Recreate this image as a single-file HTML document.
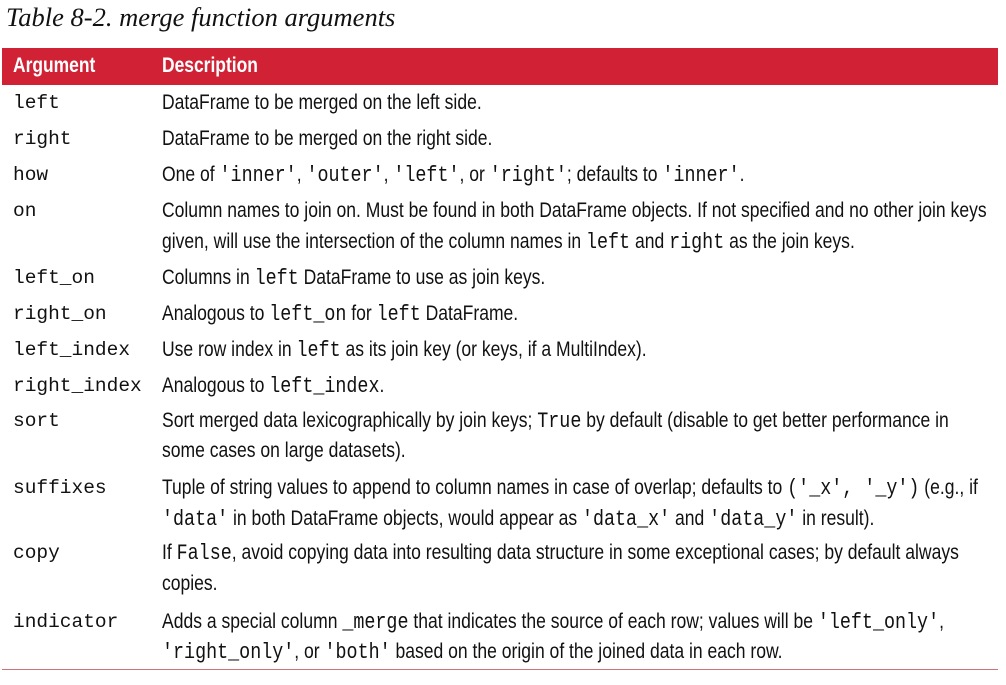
<!DOCTYPE html>
<html><head><meta charset="utf-8"><style>
body{margin:0;width:1006px;height:685px;background:#fff;position:relative;overflow:hidden;font-family:"Liberation Sans",sans-serif;color:#111}
.t{position:absolute;left:6px;top:2px;font-family:"Liberation Serif",serif;font-style:italic;font-size:26.5px;white-space:nowrap}
.hd{position:absolute;left:2px;top:48px;width:996px;height:37px;background:#d02234}
.h{position:absolute;top:54px;color:#fff;font-weight:bold;font-size:21px;transform:scaleX(0.83);transform-origin:0 0;white-space:nowrap}
.r{position:absolute;white-space:nowrap;font-size:21px;line-height:24px;transform:scaleX(0.835);transform-origin:0 0}
.a{position:absolute;left:13px;font-family:"Liberation Mono",monospace;font-size:19.5px;line-height:24px;white-space:nowrap}
code{font-family:"Liberation Mono",monospace;font-size:22px}
.bl{position:absolute;left:2px;top:669px;width:996px;height:1px;background:#d07078}
</style></head><body>
<div class="t">Table 8-2. merge function arguments</div>
<div class="hd"></div>
<div class="h" style="left:13px">Argument</div>
<div class="h" style="left:162px">Description</div>

<div class="a" style="top:91px">left</div><div class="r" style="left:162px;top:91px">DataFrame to be merged on the left side.</div>
<div class="a" style="top:127px">right</div><div class="r" style="left:162px;top:127px">DataFrame to be merged on the right side.</div>
<div class="a" style="top:163px">how</div><div class="r" style="left:162px;top:163px">One of <code>'inner'</code>, <code>'outer'</code>, <code>'left'</code>, or <code>'right'</code>; defaults to <code>'inner'</code>.</div>
<div class="a" style="top:199px">on</div><div class="r" style="left:162px;top:199px">Column names to join on. Must be found in both DataFrame objects. If not specified and no other join keys</div>
<div class="r" style="left:162px;top:230px">given, will use the intersection of the column names in <code>left</code> and <code>right</code> as the join keys.</div>
<div class="a" style="top:266px">left_on</div><div class="r" style="left:162px;top:266px">Columns in <code>left</code> DataFrame to use as join keys.</div>
<div class="a" style="top:302px">right_on</div><div class="r" style="left:162px;top:302px">Analogous to <code>left_on</code> for <code>left</code> DataFrame.</div>
<div class="a" style="top:338px">left_index</div><div class="r" style="left:162px;top:338px">Use row index in <code>left</code> as its join key (or keys, if a MultiIndex).</div>
<div class="a" style="top:374px">right_index</div><div class="r" style="left:162px;top:374px">Analogous to <code>left_index</code>.</div>
<div class="a" style="top:409px">sort</div><div class="r" style="left:162px;top:409px">Sort merged data lexicographically by join keys; <code>True</code> by default (disable to get better performance in</div>
<div class="r" style="left:162px;top:439px">some cases on large datasets).</div>
<div class="a" style="top:476px">suffixes</div><div class="r" style="left:162px;top:476px">Tuple of string values to append to column names in case of overlap; defaults to <code>('_x', '_y')</code> (e.g., if</div>
<div class="r" style="left:162px;top:507px"><code>'data'</code> in both DataFrame objects, would appear as <code>'data_x'</code> and <code>'data_y'</code> in result).</div>
<div class="a" style="top:541px">copy</div><div class="r" style="left:162px;top:541px">If <code>False</code>, avoid copying data into resulting data structure in some exceptional cases; by default always</div>
<div class="r" style="left:162px;top:572px">copies.</div>
<div class="a" style="top:610px">indicator</div><div class="r" style="left:162px;top:610px">Adds a special column <code>_merge</code> that indicates the source of each row; values will be <code>'left_only'</code>,</div>
<div class="r" style="left:162px;top:640px"><code>'right_only'</code>, or <code>'both'</code> based on the origin of the joined data in each row.</div>
<div class="bl"></div>
</body></html>
